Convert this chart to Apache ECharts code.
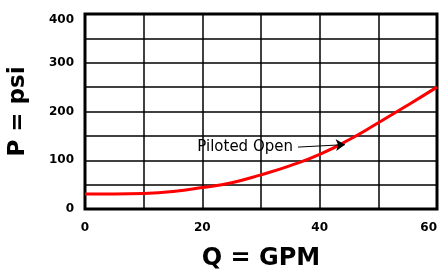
<!DOCTYPE html>
<html>
<head>
<meta charset="utf-8">
<script src="https://cdn.jsdelivr.net/npm/echarts@6/dist/echarts.min.js"></script>
<style>
  html, body { margin: 0; padding: 0; background: #fff; }
  #main { width: 443px; height: 270px; }
</style>
</head>
<body>
<div id="main"></div>
<script>
// 流量 Q (GPM) 与压力 P (psi)
const gpm = [0, 5, 10, 15, 20, 25, 30, 35, 40, 45, 50, 55, 60];
const psi = [31, 31, 32, 36, 44, 54, 70, 89, 112, 142, 177, 213, 250];

// 刻度标签
const xLabels = [0, 20, 40, 60];
const yLabels = [0, 100, 200, 300, 400];

// 注释 "Piloted Open" 的箭头起止点
const arrowFrom = [36.3, 127];
const arrowTo = [44.3, 132];

const chart = echarts.init(document.getElementById('main'));

chart.setOption({
    animation: false,
    grid: {
        left: 85, top: 14, right: 6, bottom: 61,
        outerBoundsMode: 'none',
        containLabel: false,
        show: true,
        borderColor: '#000',
        borderWidth: 3
    },
    xAxis: {
        type: 'value',
        min: 0, max: 60, interval: 10,
        name: 'Q = GPM',
        nameLocation: 'middle',
        nameGap: 38,
        nameTextStyle: { fontFamily: 'DejaVu Sans', fontWeight: 'bold', fontSize: 24, color: '#000' },
        axisLine: { show: false },
        axisTick: { show: false },
        axisLabel: {
            margin: 13,
            alignMaxLabel: 'right',
            fontFamily: 'DejaVu Sans', fontWeight: 'bold', fontSize: 12, color: '#000',
            formatter: v => xLabels.includes(v) ? String(v) : ''
        },
        splitLine: { lineStyle: { color: '#000', width: 1.5 } }
    },
    yAxis: {
        type: 'value',
        min: 0, max: 400, interval: 50,
        name: 'P = psi',
        nameLocation: 'middle',
        nameRotate: 90,
        nameGap: 55,
        nameTextStyle: { fontFamily: 'DejaVu Sans', fontWeight: 'bold', fontSize: 23, color: '#000' },
        axisLine: { show: false },
        axisTick: { show: false },
        axisLabel: {
            margin: 11,
            verticalAlignMaxLabel: 'top',
            fontFamily: 'DejaVu Sans', fontWeight: 'bold', fontSize: 12, color: '#000',
            formatter: v => yLabels.includes(v) ? String(v) : ''
        },
        splitLine: { lineStyle: { color: '#000', width: 1.5 } }
    },
    series: [{
        type: 'line',
        data: gpm.map((g, i) => [g, psi[i]]),
        smooth: true,
        showSymbol: false,
        lineStyle: { color: '#ff0000', width: 3 },
        markLine: {
            silent: true,
            symbol: ['none', 'arrow'],
            symbolSize: 9,
            lineStyle: { color: '#000', width: 1, type: 'solid' },
            label: {
                show: true,
                position: 'start',
                formatter: 'Piloted Open',
                fontFamily: 'DejaVu Sans', fontSize: 15, color: '#000'
            },
            data: [[{ coord: arrowFrom }, { coord: arrowTo }]]
        }
    }]
});
</script>
</body>
</html>
